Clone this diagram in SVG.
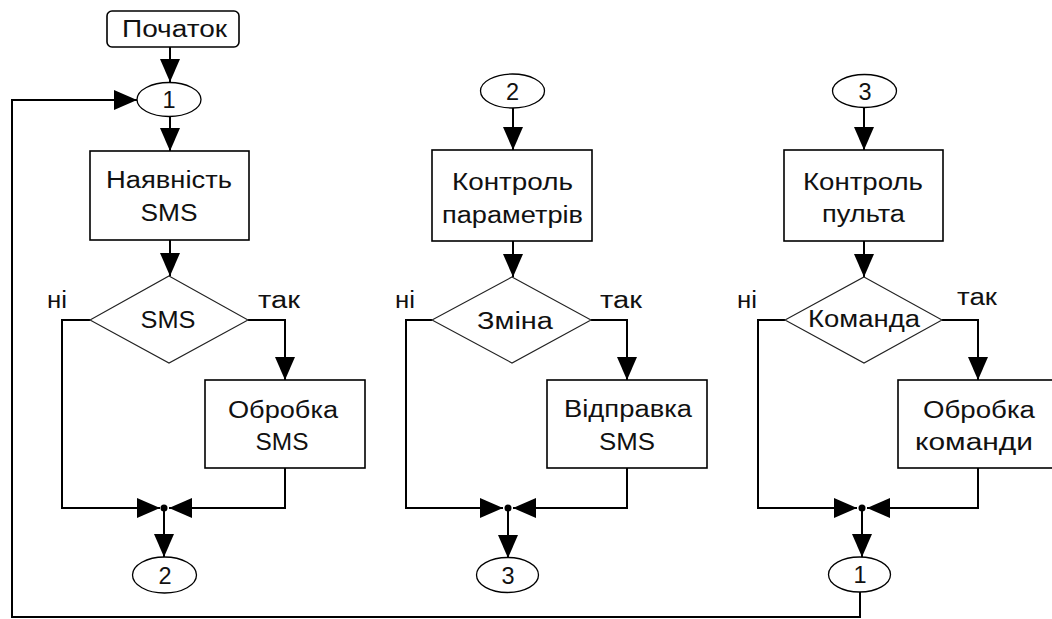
<svg xmlns="http://www.w3.org/2000/svg" width="1052" height="619" viewBox="0 0 1052 619">
<defs>
<style>
.box{fill:#fff;stroke:#000;stroke-width:1.6}
.ell{fill:#fff;stroke:#000;stroke-width:1.3}
.dia{fill:#fff;stroke:#222;stroke-width:1.1}
.ln{fill:none;stroke:#000;stroke-width:2}
.t{font-family:"Liberation Sans",Arial,sans-serif;font-size:23.5px;fill:#111;text-anchor:middle}
.lb{font-family:"Liberation Sans",Arial,sans-serif;font-size:23.5px;fill:#111}
</style>
<marker id="ah" viewBox="0 0 23 20" refX="23" refY="10" markerWidth="23" markerHeight="20" markerUnits="userSpaceOnUse" orient="auto">
<path d="M0,0 L23,10 L0,20 z" fill="#000"/>
</marker>
</defs>
<rect width="1052" height="619" fill="#fff"/>
<g id="connectors">
<path class="ln" d="M170,47 V82" marker-end="url(#ah)"/>
<path class="ln" d="M860,592 V617 H12 V100 H137" marker-end="url(#ah)"/>
<path class="ln" d="M170,117 V151" marker-end="url(#ah)"/>
<path class="ln" d="M170,240 V276" marker-end="url(#ah)"/>
<path class="ln" d="M90,320 H62 V508 H160" marker-end="url(#ah)"/>
<path class="ln" d="M248,320 H285 V380" marker-end="url(#ah)"/>
<path class="ln" d="M285,468 V508 H169" marker-end="url(#ah)"/>
<path class="ln" d="M164,508 V557" marker-end="url(#ah)"/>
<circle cx="164" cy="508" r="3.5" fill="#000"/>
<path class="ln" d="M513,108 V150" marker-end="url(#ah)"/>
<path class="ln" d="M513,241 V277" marker-end="url(#ah)"/>
<path class="ln" d="M432,320 H406 V508 H503" marker-end="url(#ah)"/>
<path class="ln" d="M591,320 H627 V380" marker-end="url(#ah)"/>
<path class="ln" d="M627,468 V508 H513" marker-end="url(#ah)"/>
<path class="ln" d="M508,508 V558" marker-end="url(#ah)"/>
<circle cx="508" cy="508" r="3.5" fill="#000"/>
<path class="ln" d="M864,107 V150" marker-end="url(#ah)"/>
<path class="ln" d="M864,241 V277" marker-end="url(#ah)"/>
<path class="ln" d="M785,320 H758 V508 H857" marker-end="url(#ah)"/>
<path class="ln" d="M942,320 H978 V380" marker-end="url(#ah)"/>
<path class="ln" d="M978,468 V508 H867" marker-end="url(#ah)"/>
<path class="ln" d="M862,508 V557" marker-end="url(#ah)"/>
<circle cx="862" cy="508" r="3.5" fill="#000"/>
</g>
<g id="start"><rect class="box" x="107" y="11" width="132" height="36" rx="5"/><text class="t" x="174.5" y="37" textLength="105" lengthAdjust="spacingAndGlyphs">Початок</text></g>
<g id="c1a"><ellipse class="ell" cx="169" cy="99.5" rx="32" ry="17"/><text class="t" x="169" y="108">1</text></g>
<g id="p1"><rect class="box" x="90" y="151" width="159" height="89"/><text class="t" x="169" y="188" textLength="126" lengthAdjust="spacingAndGlyphs">Наявність</text><text class="t" x="169" y="221" textLength="57" lengthAdjust="spacingAndGlyphs">SMS</text></g>
<g id="d1"><polygon class="dia" points="169,276 248,320 169,363 90,320"/><text class="t" x="168" y="328" textLength="55" lengthAdjust="spacingAndGlyphs">SMS</text></g>
<g id="p2"><rect class="box" x="205" y="380" width="160" height="88"/><text class="t" x="283" y="418" textLength="110" lengthAdjust="spacingAndGlyphs">Обробка</text><text class="t" x="282" y="450" textLength="53" lengthAdjust="spacingAndGlyphs">SMS</text></g>
<g id="c2b"><ellipse class="ell" cx="164.5" cy="575" rx="32" ry="18"/><text class="t" x="165" y="584">2</text></g>
<g id="c2a"><ellipse class="ell" cx="512.5" cy="91" rx="32" ry="17"/><text class="t" x="512.5" y="100">2</text></g>
<g id="p3"><rect class="box" x="432" y="150" width="160" height="91"/><text class="t" x="512.5" y="190" textLength="121" lengthAdjust="spacingAndGlyphs">Контроль</text><text class="t" x="512.5" y="223" textLength="141" lengthAdjust="spacingAndGlyphs">параметрів</text></g>
<g id="d2"><polygon class="dia" points="512,277 591,320 512,363 432,320"/><text class="t" x="515" y="329" textLength="76" lengthAdjust="spacingAndGlyphs">Зміна</text></g>
<g id="p4"><rect class="box" x="547" y="380" width="160" height="88"/><text class="t" x="628" y="417" textLength="128" lengthAdjust="spacingAndGlyphs">Відправка</text><text class="t" x="627" y="450" textLength="56" lengthAdjust="spacingAndGlyphs">SMS</text></g>
<g id="c3b"><ellipse class="ell" cx="507.5" cy="575" rx="31" ry="17.5"/><text class="t" x="508" y="584">3</text></g>
<g id="c3a"><ellipse class="ell" cx="864.5" cy="91" rx="32" ry="16.5"/><text class="t" x="865" y="100">3</text></g>
<g id="p5"><rect class="box" x="784" y="150" width="159" height="91"/><text class="t" x="863" y="190" textLength="120" lengthAdjust="spacingAndGlyphs">Контроль</text><text class="t" x="863.5" y="222" textLength="83" lengthAdjust="spacingAndGlyphs">пульта</text></g>
<g id="d3"><polygon class="dia" points="864,277 942,320 864,363 785,320"/><text class="t" x="864" y="327" textLength="112" lengthAdjust="spacingAndGlyphs">Команда</text></g>
<g id="p6"><rect class="box" x="898" y="380" width="160" height="88"/><text class="t" x="979" y="418" textLength="112" lengthAdjust="spacingAndGlyphs">Обробка</text><text class="t" x="974" y="450" textLength="118" lengthAdjust="spacingAndGlyphs">команди</text></g>
<g id="c1b"><ellipse class="ell" cx="859.5" cy="574.5" rx="31" ry="17.5"/><text class="t" x="860" y="583">1</text></g>
<g id="labels">
<text class="lb" x="47" y="308" textLength="20" lengthAdjust="spacingAndGlyphs">ні</text>
<text class="lb" x="258" y="308" textLength="42" lengthAdjust="spacingAndGlyphs">так</text>
<text class="lb" x="395" y="308" textLength="20" lengthAdjust="spacingAndGlyphs">ні</text>
<text class="lb" x="600" y="308" textLength="42" lengthAdjust="spacingAndGlyphs">так</text>
<text class="lb" x="737" y="308" textLength="20" lengthAdjust="spacingAndGlyphs">ні</text>
<text class="lb" x="957" y="305" textLength="40" lengthAdjust="spacingAndGlyphs">так</text>
</g>
</svg>
